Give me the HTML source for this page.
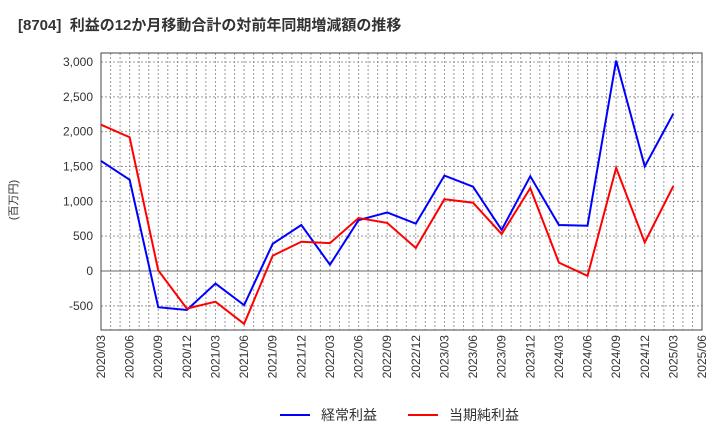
<!DOCTYPE html>
<html><head><meta charset="utf-8"><style>
body{margin:0;background:#fff;font-family:"Liberation Sans","Noto Sans CJK JP",sans-serif;}
</style></head><body>
<svg id="chart" width="720" height="440" xmlns="http://www.w3.org/2000/svg">
<text x="18" y="30" font-size="15" font-weight="bold" fill="#333" xml:space="preserve" style="white-space:pre" font-family="Liberation Sans,Noto Sans CJK JP,sans-serif">[8704]  利益の12か月移動合計の対前年同期増減額の推移</text>
<text transform="translate(17,200) rotate(-90)" font-size="11" fill="#333" text-anchor="middle" font-family="Liberation Sans,Noto Sans CJK JP,sans-serif">(百万円)</text>
<g id="grid"></g><g id="axes"></g><g id="series"></g>
<g>
<line x1="280" y1="415" x2="310" y2="415" stroke="#0000ff" stroke-width="2"/>
<text x="321" y="420" font-size="14" fill="#333" font-family="Liberation Sans,Noto Sans CJK JP,sans-serif">経常利益</text>
<line x1="408" y1="415" x2="438" y2="415" stroke="#ff0000" stroke-width="2"/>
<text x="449" y="420" font-size="14" fill="#333" font-family="Liberation Sans,Noto Sans CJK JP,sans-serif">当期純利益</text>
</g>
</svg>
<script>
const categories=["2020/03","2020/06","2020/09","2020/12","2021/03","2021/06","2021/09","2021/12","2022/03","2022/06","2022/09","2022/12","2023/03","2023/06","2023/09","2023/12","2024/03","2024/06","2024/09","2024/12","2025/03","2025/06"];
const ordinaryValues=[1580,1310,-520,-560,-180,-490,390,660,90,730,840,680,1370,1210,590,1360,660,650,3020,1500,2260];
const netValues=[2100,1920,10,-540,-440,-760,220,420,400,760,690,330,1030,980,530,1190,120,-70,1480,410,1220];
const yTicks=[-500,0,500,1000,1500,2000,2500,3000];
const yTickLabels=["-500","0","500","1,000","1,500","2,000","2,500","3,000"];
const L=101,R=702,T=53,B=330;
const xs=i=>L+i*(R-L)/(categories.length-1);
const ys=v=>271-v*(209/3000);
const NS="http://www.w3.org/2000/svg";
function mk(tag,attrs,parent){const e=document.createElementNS(NS,tag);for(const k in attrs)e.setAttribute(k,attrs[k]);parent.appendChild(e);return e;}
const grid=document.getElementById('grid'),axes=document.getElementById('axes'),series=document.getElementById('series');
const nM=(categories.length-1)*3;
for(let m=1;m<nM;m++){const x=L+m*(R-L)/nM;const l=mk('line',{x1:x,x2:x,y1:T,y2:B,stroke:'#999','stroke-width':1,'stroke-dasharray':'2,2'},grid);

}
yTicks.forEach((v,i)=>{const y=ys(v);const l=mk('line',{x1:L,x2:R,y1:y,y2:y,stroke:v===0?'#666':'#999','stroke-width':1,'stroke-dasharray':v===0?'':'2,2'},grid);


const t=mk('text',{x:L-8,y:y+4,'font-size':12,'text-anchor':'end',fill:'#333'},axes);t.textContent=yTickLabels[i];

});
const box=mk('rect',{x:L,y:T,width:R-L,height:B-T,fill:'none',stroke:'#444','stroke-width':1},axes);


categories.forEach((c,i)=>{const x=xs(i);const t=mk('text',{transform:`translate(${x+4},${B+5}) rotate(-90)`,'font-size':12,'text-anchor':'end',fill:'#333'},axes);t.textContent=c;

});
function line(vals,color,name){const p=mk('polyline',{points:vals.map((v,i)=>xs(i)+','+ys(v)).join(' '),fill:'none',stroke:color,'stroke-width':2},series);

}
line(ordinaryValues,'#0000ff','ordinary-profit-line');
line(netValues,'#ff0000','net-profit-line');
</script>
</body></html>
